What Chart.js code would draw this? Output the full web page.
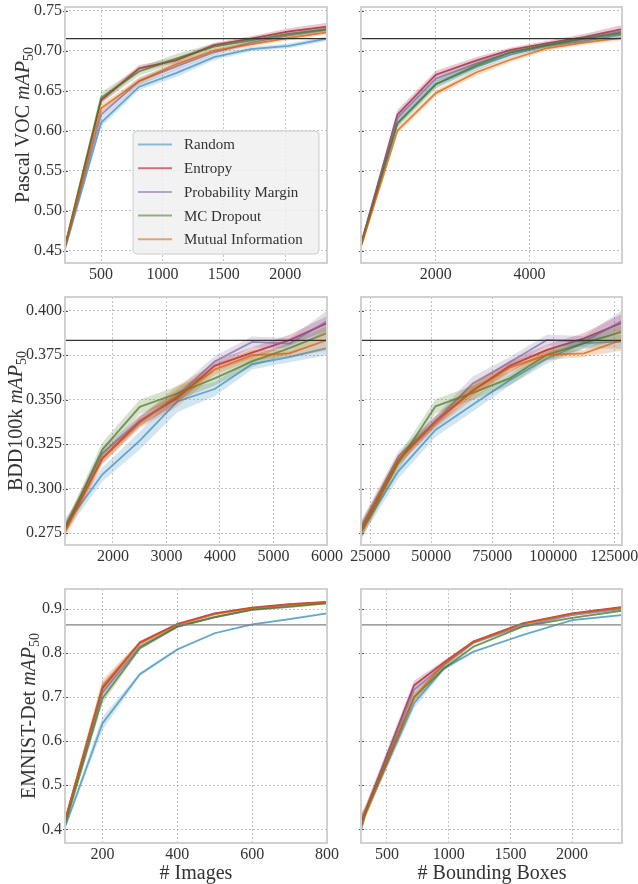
<!DOCTYPE html>
<html>
<head>
<meta charset="utf-8">
<script src="https://cdn.jsdelivr.net/npm/chart.js@4.4.1/dist/chart.umd.min.js"></script>
<style>
  body { margin: 0; background: #fff; }
  #fig { position: relative; width: 638px; height: 884px; overflow: hidden; font-family: 'Liberation Serif', serif; color: #333; }
  #fig canvas { position: absolute; left: 0; top: 0; }
  .ylab, .xlab { position: absolute; white-space: nowrap; font-size: 20px; line-height: 1; }
  .ylab { transform: translate(-50%, -50%) rotate(-90deg); }
  .xlab { transform: translate(-50%, -50%); }
  sub { font-size: 0.7em; vertical-align: -0.3em; line-height: 0; }
</style>
</head>
<body>
<div id="fig">
  <canvas id="vocImg" width="638" height="884"></canvas>
  <canvas id="vocBox" width="638" height="884"></canvas>
  <canvas id="bddImg" width="638" height="884"></canvas>
  <canvas id="bddBox" width="638" height="884"></canvas>
  <canvas id="emnistImg" width="638" height="884"></canvas>
  <canvas id="emnistBox" width="638" height="884"></canvas>
  <div class="ylab" style="left:22px; top:125px">Pascal VOC <i>mAP</i><sub>50</sub></div>
  <div class="ylab" style="left:15px; top:421px">BDD100k <i>mAP</i><sub>50</sub></div>
  <div class="ylab" style="left:28px; top:716px">EMNIST-Det <i>mAP</i><sub>50</sub></div>
  <div class="xlab" style="left:196px; top:872px"># Images</div>
  <div class="xlab" style="left:492px; top:872px"># Bounding Boxes</div>
</div>
<script>
// series order: Random, Entropy, Probability Margin, MC Dropout, Mutual Information
const methods = ['Random', 'Entropy', 'Probability Margin', 'MC Dropout', 'Mutual Information'];
const seriesRgb = ['52,138,189', '166,6,40', '122,104,166', '70,120,33', '213,94,0'];

// Pascal VOC, x = # images
const vocImgX = [206, 500, 810, 1110, 1420, 1720, 2030, 2340];
const vocImgMean = [
    [0.452, 0.610, 0.655, 0.672, 0.692, 0.702, 0.706, 0.715],
    [0.455, 0.638, 0.678, 0.688, 0.707, 0.715, 0.724, 0.730],
    [0.455, 0.620, 0.662, 0.680, 0.698, 0.710, 0.719, 0.726],
    [0.456, 0.641, 0.674, 0.690, 0.705, 0.713, 0.721, 0.727],
    [0.454, 0.628, 0.662, 0.683, 0.700, 0.708, 0.716, 0.723]
];
const vocImgSd = [
    [0.004, 0.005, 0.004, 0.005, 0.004, 0.003, 0.003, 0.003],
    [0.004, 0.004, 0.004, 0.003, 0.003, 0.003, 0.004, 0.005],
    [0.004, 0.005, 0.005, 0.004, 0.003, 0.003, 0.004, 0.004],
    [0.004, 0.007, 0.005, 0.006, 0.004, 0.003, 0.003, 0.003],
    [0.004, 0.005, 0.004, 0.003, 0.003, 0.003, 0.003, 0.003]
];

// Pascal VOC, x = # bounding boxes
const vocBoxX = [404, 1180, 2000, 2870, 3600, 4360, 5160, 5970];
const vocBoxMean = [
    [0.457, 0.609, 0.658, 0.680, 0.695, 0.706, 0.712, 0.720],
    [0.458, 0.620, 0.670, 0.688, 0.701, 0.709, 0.717, 0.727],
    [0.458, 0.616, 0.665, 0.684, 0.698, 0.707, 0.715, 0.724],
    [0.457, 0.609, 0.658, 0.682, 0.698, 0.707, 0.715, 0.722],
    [0.455, 0.600, 0.647, 0.673, 0.689, 0.703, 0.710, 0.716]
];
const vocBoxSd = [
    [0.004, 0.004, 0.004, 0.004, 0.003, 0.003, 0.003, 0.003],
    [0.005, 0.006, 0.005, 0.004, 0.003, 0.003, 0.004, 0.005],
    [0.004, 0.005, 0.004, 0.004, 0.003, 0.003, 0.003, 0.004],
    [0.004, 0.005, 0.006, 0.004, 0.003, 0.003, 0.003, 0.003],
    [0.004, 0.004, 0.004, 0.004, 0.003, 0.003, 0.003, 0.003]
];

// BDD100k, x = # images
const bddImgX = [1100, 1800, 2500, 3200, 3900, 4600, 5300, 6000];
const bddImgMean = [
    [0.279, 0.308, 0.327, 0.349, 0.356, 0.370, 0.374, 0.379],
    [0.277, 0.317, 0.338, 0.351, 0.369, 0.3765, 0.3835, 0.393],
    [0.278, 0.320, 0.338, 0.352, 0.3715, 0.3825, 0.3815, 0.394],
    [0.277, 0.322, 0.346, 0.3535, 0.362, 0.3715, 0.379, 0.3875],
    [0.276, 0.317, 0.337, 0.352, 0.367, 0.375, 0.376, 0.3835]
];
const bddImgSd = [
    [0.004, 0.004, 0.005, 0.006, 0.004, 0.003, 0.003, 0.004],
    [0.003, 0.003, 0.003, 0.003, 0.003, 0.003, 0.003, 0.004],
    [0.003, 0.003, 0.003, 0.004, 0.003, 0.003, 0.003, 0.006],
    [0.003, 0.004, 0.004, 0.004, 0.004, 0.003, 0.003, 0.004],
    [0.005, 0.003, 0.003, 0.006, 0.003, 0.003, 0.002, 0.006]
];

// BDD100k, x = # bounding boxes
const bddBoxX = [21200, 36400, 51700, 66900, 82100, 97400, 112600, 127800];
const bddBoxMean = [
    [0.276, 0.3096, 0.333, 0.3472, 0.361, 0.3733, 0.3818, 0.3826],
    [0.277, 0.316, 0.338, 0.355, 0.369, 0.378, 0.3845, 0.393],
    [0.278, 0.318, 0.338, 0.359, 0.371, 0.3836, 0.3826, 0.394],
    [0.276, 0.3143, 0.3463, 0.3538, 0.362, 0.3752, 0.3818, 0.388],
    [0.276, 0.316, 0.337, 0.355, 0.368, 0.3752, 0.376, 0.3835]
];
const bddBoxSd = [
    [0.004, 0.004, 0.004, 0.004, 0.003, 0.003, 0.003, 0.004],
    [0.004, 0.003, 0.003, 0.003, 0.003, 0.003, 0.003, 0.005],
    [0.004, 0.003, 0.003, 0.004, 0.003, 0.003, 0.003, 0.006],
    [0.004, 0.004, 0.004, 0.004, 0.004, 0.003, 0.003, 0.004],
    [0.005, 0.003, 0.003, 0.005, 0.003, 0.003, 0.002, 0.006]
];

// EMNIST-Det, x = # images
const emnistImgX = [100, 200, 300, 400, 500, 600, 700, 800];
const emnistImgMean = [
    [0.405, 0.640, 0.752, 0.808, 0.845, 0.865, 0.877, 0.890],
    [0.420, 0.720, 0.824, 0.866, 0.890, 0.903, 0.911, 0.916],
    [0.415, 0.710, 0.815, 0.860, 0.882, 0.899, 0.907, 0.914],
    [0.410, 0.697, 0.811, 0.860, 0.881, 0.898, 0.905, 0.913],
    [0.420, 0.725, 0.822, 0.864, 0.888, 0.902, 0.910, 0.915]
];
const emnistImgSd = [
    [0.005, 0.015, 0.004, 0.003, 0.002, 0.002, 0.002, 0.002],
    [0.006, 0.012, 0.004, 0.003, 0.002, 0.002, 0.002, 0.002],
    [0.006, 0.012, 0.004, 0.003, 0.002, 0.002, 0.002, 0.002],
    [0.006, 0.012, 0.004, 0.003, 0.002, 0.002, 0.002, 0.002],
    [0.008, 0.015, 0.005, 0.003, 0.002, 0.002, 0.002, 0.002]
];

// EMNIST-Det, x = # bounding boxes
const emnistBoxX = [290, 330, 720, 960, 1200, 1600, 2000, 2400];
const emnistBoxMean = [
    [0.405, 0.440, 0.686, 0.765, 0.803, 0.841, 0.875, 0.886],
    [0.415, 0.445, 0.727, 0.778, 0.826, 0.8675, 0.890, 0.904],
    [0.410, 0.445, 0.716, 0.772, 0.823, 0.862, 0.886, 0.900],
    [0.410, 0.440, 0.700, 0.765, 0.8145, 0.860, 0.880, 0.896],
    [0.410, 0.440, 0.700, 0.775, 0.825, 0.866, 0.889, 0.903]
];
const emnistBoxSd = [
    [0.015, 0.010, 0.012, 0.005, 0.003, 0.002, 0.002, 0.002],
    [0.020, 0.012, 0.010, 0.005, 0.003, 0.002, 0.002, 0.002],
    [0.020, 0.012, 0.010, 0.005, 0.003, 0.002, 0.002, 0.002],
    [0.020, 0.012, 0.010, 0.005, 0.003, 0.002, 0.002, 0.002],
    [0.020, 0.012, 0.010, 0.005, 0.003, 0.002, 0.002, 0.002]
];

// reference (full data) lines
const vocBaseline = 0.715;
const bddBaseline = 0.3833;
const emnistBaseline = 0.864;

// tick labels
const vocYTicks = [0.45, 0.5, 0.55, 0.6, 0.65, 0.7, 0.75];
const bddYTicks = [0.275, 0.3, 0.325, 0.35, 0.375, 0.4];
const emnistYTicks = [0.4, 0.5, 0.6, 0.7, 0.8, 0.9];
const vocImgXTicks = [500, 1000, 1500, 2000];
const vocBoxXTicks = [2000, 4000];
const bddImgXTicks = [2000, 3000, 4000, 5000, 6000];
const bddBoxXTicks = [25000, 50000, 75000, 100000, 125000];
const emnistImgXTicks = [200, 400, 600, 800];
const emnistBoxXTicks = [500, 1000, 1500, 2000];

Chart.defaults.font.family = "'Liberation Serif', serif";
Chart.defaults.color = '#333';

const Y_AXIS_W = 40;
const X_AXIS_H = 30;

const framePlugin = {
    id: 'frame',
    afterDatasetsDraw(chart) {
        const { ctx, chartArea: a } = chart;
        ctx.save();
        ctx.strokeStyle = '#555';
        ctx.lineWidth = 1;
        chart.scales.y.ticks.forEach(t => {
            const y = Math.round(chart.scales.y.getPixelForValue(t.value)) + 0.5;
            ctx.beginPath();
            ctx.moveTo(a.left - 2, y);
            ctx.lineTo(a.left + 3, y);
            ctx.stroke();
        });
        ctx.strokeStyle = '#d0d0d0';
        ctx.lineWidth = 2;
        ctx.strokeRect(a.left, a.top, a.right - a.left, a.bottom - a.top);
        ctx.restore();
    }
};

const boxLegend = {
    id: 'boxLegend',
    afterDraw(chart, args, opts) {
        if (!opts.show) {
            return;
        }
        const ctx = chart.ctx;
        ctx.save();
        ctx.beginPath();
        ctx.roundRect(opts.x, opts.y, opts.w, opts.h, 4);
        ctx.fillStyle = 'rgba(240,240,240,0.85)';
        ctx.fill();
        ctx.strokeStyle = '#cccccc';
        ctx.lineWidth = 1;
        ctx.stroke();
        ctx.font = "15px 'Liberation Serif', serif";
        ctx.textBaseline = 'middle';
        ctx.fillStyle = '#333';
        methods.forEach((name, i) => {
            const y = opts.y + 13.5 + i * 23.7;
            ctx.strokeStyle = `rgba(${seriesRgb[i]},0.55)`;
            ctx.lineWidth = 2;
            ctx.beginPath();
            ctx.moveTo(opts.x + 5, y);
            ctx.lineTo(opts.x + 39, y);
            ctx.stroke();
            ctx.fillText(name, opts.x + 51, y + 1);
        });
        ctx.restore();
    }
};

function makePanel(id, p) {
    const datasets = [];
    methods.forEach((name, i) => {
        const lo = datasets.length;
        datasets.push({
            label: name + ' low',
            data: p.x.map((x, j) => ({ x, y: p.mean[i][j] - p.sd[i][j] })),
            borderWidth: 0, pointRadius: 0, fill: false, order: 20 - 2 * i
        });
        datasets.push({
            label: name + ' high',
            data: p.x.map((x, j) => ({ x, y: p.mean[i][j] + p.sd[i][j] })),
            borderWidth: 0, pointRadius: 0, fill: lo,
            backgroundColor: `rgba(${seriesRgb[i]},0.22)`, order: 20 - 2 * i
        });
        datasets.push({
            label: name,
            data: p.x.map((x, j) => ({ x, y: p.mean[i][j] })),
            borderColor: `rgba(${seriesRgb[i]},0.7)`, borderWidth: 1.8,
            pointRadius: 0, fill: false, order: 19 - 2 * i
        });
    });
    datasets.push({
        label: 'full data',
        data: [{ x: p.xMin, y: p.baseline }, { x: p.xMax, y: p.baseline }],
        borderColor: p.baseColor, borderWidth: 1.3, pointRadius: 0, fill: false, order: 0
    });

    const a = p.area;
    new Chart(document.getElementById(id), {
        type: 'line',
        data: { datasets },
        options: {
            responsive: false,
            animation: false,
            layout: {
                padding: { left: a.l - Y_AXIS_W, top: a.t, right: 638 - a.r, bottom: 884 - a.b - X_AXIS_H }
            },
            scales: {
                x: {
                    type: 'linear', min: p.xMin, max: p.xMax,
                    afterBuildTicks: s => { s.ticks = p.xTicks.map(v => ({ value: v })); },
                    afterFit: s => {
                        s.height = X_AXIS_H;
                        s.paddingLeft = 0; s.paddingRight = 0;
                    },
                    ticks: { font: { size: 16 }, color: '#333', padding: 2, maxRotation: 0, autoSkip: false, callback: v => String(v) },
                    grid: { color: '#b4b4b4', lineWidth: 0.8, drawTicks: false },
                    border: { display: false, dash: [2, 2] }
                },
                y: {
                    type: 'linear', min: p.yMin, max: p.yMax,
                    afterBuildTicks: s => { s.ticks = p.yTicks.map(v => ({ value: v })); },
                    afterFit: s => {
                        s.width = Y_AXIS_W;
                        s.paddingTop = 0; s.paddingBottom = 0;
                    },
                    ticks: { display: p.yLabels, font: { size: 16 }, color: '#333', padding: 3, callback: v => v.toFixed(p.digits) },
                    grid: { color: '#b4b4b4', lineWidth: 0.8, drawTicks: false },
                    border: { display: false, dash: [2, 2] }
                }
            },
            plugins: {
                legend: { display: false },
                tooltip: { enabled: false },
                boxLegend: p.legend || { show: false }
            }
        },
        plugins: [framePlugin, boxLegend]
    });
}

makePanel('vocImg', {
    area: { l: 65, t: 7, r: 327, b: 263 },
    x: vocImgX, mean: vocImgMean, sd: vocImgSd, baseline: vocBaseline, baseColor: '#333',
    xMin: 206, xMax: 2340, yMin: 0.4346, yMax: 0.7546,
    xTicks: vocImgXTicks, yTicks: vocYTicks, digits: 2, yLabels: true,
    legend: { show: true, x: 133, y: 131, w: 186, h: 123 }
});
makePanel('vocBox', {
    area: { l: 361, t: 7, r: 622, b: 263 },
    x: vocBoxX, mean: vocBoxMean, sd: vocBoxSd, baseline: vocBaseline, baseColor: '#333',
    xMin: 404, xMax: 5972, yMin: 0.4346, yMax: 0.7546,
    xTicks: vocBoxXTicks, yTicks: vocYTicks, digits: 2, yLabels: false
});
makePanel('bddImg', {
    area: { l: 65, t: 297, r: 327, b: 545 },
    x: bddImgX, mean: bddImgMean, sd: bddImgSd, baseline: bddBaseline, baseColor: '#333',
    xMin: 1103, xMax: 6000, yMin: 0.2684, yMax: 0.4077,
    xTicks: bddImgXTicks, yTicks: bddYTicks, digits: 3, yLabels: true
});
makePanel('bddBox', {
    area: { l: 361, t: 297, r: 622, b: 545 },
    x: bddBoxX, mean: bddBoxMean, sd: bddBoxSd, baseline: bddBaseline, baseColor: '#333',
    xMin: 21185, xMax: 128130, yMin: 0.2684, yMax: 0.4077,
    xTicks: bddBoxXTicks, yTicks: bddYTicks, digits: 3, yLabels: false
});
makePanel('emnistImg', {
    area: { l: 65, t: 589, r: 327, b: 843 },
    x: emnistImgX, mean: emnistImgMean, sd: emnistImgSd, baseline: emnistBaseline, baseColor: '#808080',
    xMin: 100, xMax: 800, yMin: 0.3689, yMax: 0.9454,
    xTicks: emnistImgXTicks, yTicks: emnistYTicks, digits: 1, yLabels: true
});
makePanel('emnistBox', {
    area: { l: 361, t: 589, r: 622, b: 843 },
    x: emnistBoxX, mean: emnistBoxMean, sd: emnistBoxSd, baseline: emnistBaseline, baseColor: '#808080',
    xMin: 290, xMax: 2404, yMin: 0.3689, yMax: 0.9454,
    xTicks: emnistBoxXTicks, yTicks: emnistYTicks, digits: 1, yLabels: false
});
</script>
</body>
</html>
